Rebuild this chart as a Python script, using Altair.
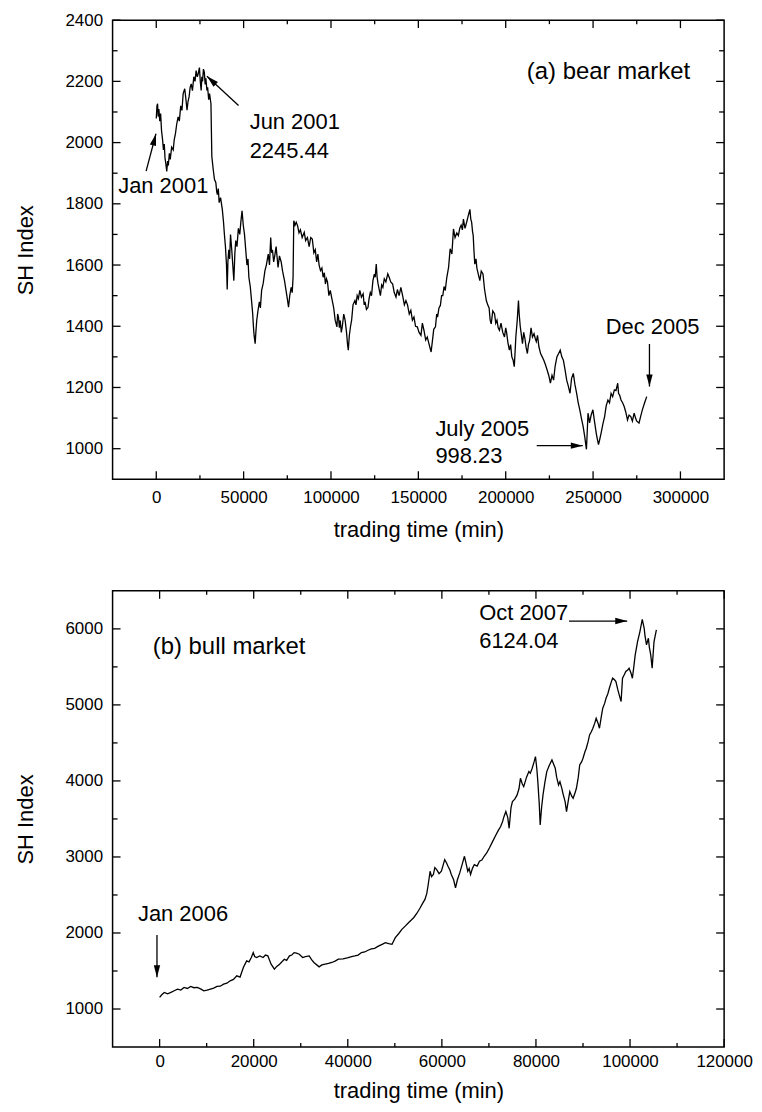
import math
import altair as alt
import pandas as pd

# ---------------- data: (a) bear market (SH index vs trading minutes) ----------------
bear_t = [0, 400, 750, 1100, 1500, 2000, 2500, 3000, 3600, 4100, 4600, 5000, 5500, 6000, 6500, 6900,
          7500, 8000, 8800, 9700, 10300, 11000, 11700, 12500, 13200, 14000, 14700, 15400, 16300, 17000,
          17600, 18200, 18800, 19400, 20000, 20700, 21500, 22200, 22800, 23500, 24000, 24700, 25200,
          25700, 26100, 26500, 27000, 27500, 28000, 28400, 29000, 29400, 30000, 30500, 31300, 31800,
          32600, 33300, 34100, 34600, 35000, 35500, 36000, 36800, 37800, 38500, 39000, 39600, 40200,
          40600, 41000, 41500, 42000, 42500, 43200, 43800, 44400, 45000, 45500, 46200, 47000, 47800,
          48400, 49100, 49800, 50500, 51200, 51900, 52500, 53000, 53800, 54700, 55200, 55600, 56000,
          56600, 57000, 57500, 58200, 59000, 59600, 60300, 61200, 62200, 63000, 64100, 64800, 65500,
          66000, 66500, 67200, 67800, 68600, 69700, 70500, 71500, 72300, 73400, 74200, 75000, 75700,
          76400, 77200, 77800, 78300, 78700, 79400, 80100, 80900, 81700, 82500, 83500, 84700, 85500,
          86500, 87500, 88400, 89300, 90200, 91000, 91800, 92500, 93200, 94000, 94800, 95500, 96200,
          96800, 97400, 98000, 98800, 99600, 100500, 101500, 102400, 103400, 103800, 104300, 104800,
          105300, 105900, 106500, 107300, 108100, 108900, 109400, 109900, 110500, 111200, 111800,
          112600, 113700, 114300, 115000, 115700, 116500, 117400, 118400, 119000, 119500, 120300,
          121200, 121800, 122500, 123200, 124000, 124800, 125300, 125900, 126400, 126900, 127600,
          128300, 129000, 129700, 130500, 131400, 132500, 133300, 134200, 135300, 136200, 137200,
          138000, 139000, 140000, 141000, 142000, 142900, 143800, 144800, 145700, 146600, 147500,
          148400, 149400, 150400, 151500, 152300, 153200, 154200, 155100, 156200, 157300, 158000,
          158800, 159800, 160500, 161000, 161800, 162600, 163300, 164000, 164700, 165400, 166300,
          167300, 168200, 169200, 170100, 171000, 172000, 172900, 173700, 174500, 175200, 175800,
          176700, 177600, 178500, 179500, 180000, 180500, 181000, 181400, 181800, 182300, 183000,
          183500, 184300, 185200, 186000, 187000, 187900, 188900, 189700, 190500, 191100, 191700,
          192600, 193600, 194300, 195000, 195700, 196400, 197300, 198300, 199300, 200000, 200500,
          201300, 202100, 202800, 203500, 204200, 204900, 205400, 205800, 206600, 207300, 207700,
          208300, 209000, 209600, 210300, 211000, 211700, 212400, 213000, 213700, 214500, 215300,
          216200, 216900, 217500, 218200, 219000, 220000, 220900, 221800, 222700, 223700, 224600,
          225600, 226500, 227400, 228300, 229300, 230200, 231200, 232100, 233000, 233900, 234900,
          235800, 236800, 237700, 238700, 239600, 240600, 241500, 242400, 243300, 244300, 245200,
          246200, 246700, 247100, 247600, 248000, 248900, 249900, 250800, 251800, 252500, 253100,
          253800, 254600, 255600, 256600, 257500, 258500, 259400, 260300, 261200, 262200, 263100,
          264100, 264600, 265200, 266000, 266900, 267800, 268700, 269700, 270600, 271600, 272500,
          273500, 274300, 275000, 276300, 277200, 278200, 279500, 280700]
bear_v = [2079, 2120, 2127, 2085, 2110, 2070, 2095, 2040, 2010, 1976, 1995, 1950, 1930, 1906, 1940, 1925,
          1965, 1945, 1985, 1976, 2010, 2030, 2060, 2084, 2070, 2120, 2105, 2160, 2176, 2140,
          2106, 2135, 2150, 2180, 2192, 2170, 2215, 2200, 2235, 2215, 2225, 2245, 2200,
          2170, 2215, 2200, 2240, 2230, 2190, 2210, 2170, 2181, 2140, 2160, 2127, 1955,
          1912, 1880, 1869, 1840, 1830, 1850, 1804, 1820, 1782, 1740, 1700, 1660, 1600,
          1520, 1610, 1650, 1620, 1700, 1650, 1600, 1549, 1640, 1680, 1660, 1720, 1700,
          1740, 1777, 1730, 1700, 1650, 1600, 1620, 1560, 1530, 1473, 1440, 1400, 1370,
          1343, 1380, 1419, 1450, 1480, 1460, 1517, 1540, 1582, 1600, 1636, 1600, 1690,
          1640, 1650, 1610, 1630, 1660, 1592, 1630, 1610, 1580, 1549, 1520, 1490, 1462,
          1500, 1527, 1510, 1560, 1745, 1730, 1740, 1728, 1705, 1715, 1690, 1707, 1680,
          1690, 1660, 1690, 1685, 1640, 1650, 1610, 1636, 1600, 1582, 1590, 1560, 1575,
          1538, 1555, 1545, 1500, 1517, 1490, 1462, 1420, 1398, 1440, 1430, 1395,
          1419, 1380, 1400, 1440, 1419, 1380, 1345, 1322, 1370, 1400, 1419,
          1470, 1484, 1470, 1500, 1490, 1517, 1495, 1506, 1470, 1480, 1455,
          1462, 1490, 1510, 1500, 1549, 1570, 1560, 1603, 1560, 1540, 1520,
          1500, 1535, 1527, 1555, 1545, 1571, 1560, 1545, 1538, 1510, 1495,
          1520, 1500, 1527, 1500, 1470, 1484, 1470, 1440, 1452, 1420, 1430,
          1400, 1398, 1380, 1370, 1410, 1387, 1355, 1365, 1340, 1316, 1350,
          1390, 1398, 1440, 1430, 1460, 1468, 1500, 1500, 1530, 1517, 1560,
          1592, 1653, 1636, 1718, 1690, 1705, 1696, 1720, 1730, 1715, 1750,
          1720, 1739, 1760, 1782, 1750, 1740, 1710, 1696, 1650, 1603, 1620,
          1590, 1570, 1549, 1580, 1571, 1520, 1484, 1470, 1460, 1420, 1408,
          1450, 1441, 1410, 1420, 1395, 1387, 1410, 1380, 1365, 1395, 1380,
          1345, 1322, 1340, 1300, 1290, 1268, 1320, 1365, 1420, 1484, 1441,
          1400, 1370, 1343, 1380, 1360, 1330, 1311, 1340, 1354, 1395, 1365,
          1376, 1360, 1350, 1370, 1333, 1310, 1300, 1289, 1275, 1257, 1240,
          1214, 1240, 1224, 1270, 1300, 1310, 1322, 1300, 1289, 1260, 1224,
          1205, 1181, 1230, 1246, 1210, 1181, 1150, 1127, 1100, 1073, 1040,
          998, 1060, 1116, 1100, 1084, 1110, 1127, 1090, 1051, 1030, 1013,
          1030, 1051, 1080, 1105, 1140, 1159, 1150, 1181, 1170, 1192, 1190,
          1214, 1180, 1175, 1159, 1150, 1138, 1120, 1094, 1110, 1105, 1090,
          1116, 1100, 1090, 1084, 1105, 1127, 1150, 1170]

# ---------------- data: (b) bull market ----------------
bull_t = [0, 500, 1000, 1700, 2400, 3100, 3800, 4500, 5200, 5900, 6600, 7300, 8000, 8700, 9400, 10100,
          10800, 11500, 12200, 12900, 13600, 14300, 15000, 15700, 16400, 17100, 17800, 18500, 19000,
          19500, 19900, 20200, 20600, 21300, 22000, 22500, 23000, 23700, 24400, 24900, 25500, 26500,
          27000, 27600, 28100, 28600, 29100, 29700, 30400, 31000, 31800, 32300, 32800, 33900, 34500,
          35200, 35900, 36600, 37300, 38000, 39000, 40100, 40800, 41500, 42200, 42900, 43600, 44300,
          45000, 45700, 46600, 47300, 48000, 48700, 49400, 50100, 50800, 51500, 52200, 52900, 53500,
          54000, 54700, 55400, 55900, 56400, 56800, 57100, 57500, 57800, 58200, 58500, 58900, 59400,
          59900, 60300, 60600, 61000, 61300, 61700, 62000, 62500, 62900, 63300, 63800, 64300, 64800,
          65200, 65500, 65800, 66100, 66500, 66900, 67500, 68000, 68500, 69000, 69600, 70100, 70800,
          71400, 72000, 72500, 72900, 73200, 73600, 74000, 74300, 74700, 75000, 75500, 76000, 76400,
          76700, 77100, 77400, 78000, 78500, 78800, 79200, 79600, 79900, 80200, 80400, 80700, 80900,
          81200, 81500, 81900, 82300, 82800, 83400, 83700, 84100, 84400, 84800, 85100, 85500, 85800,
          86200, 86500, 86900, 87200, 87600, 87900, 88300, 88600, 89000, 89300, 89700, 90000, 90400,
          90700, 91100, 91400, 91800, 92100, 92500, 92800, 93200, 93500, 93900, 94200, 94600, 94900,
          95300, 95600, 96000, 96300, 96700, 97000, 97400, 97700, 98100, 98400, 98800, 99100, 99500,
          99800, 100200, 100500, 100800, 101100, 101600, 102100, 102600, 103000, 103200, 103500,
          103900, 104100, 104400, 104700, 105100, 105600]
bull_v = [1153, 1190, 1218, 1200, 1218, 1240, 1262, 1250, 1284, 1270, 1297, 1280, 1284, 1265, 1240, 1250,
          1262, 1275, 1297, 1300, 1327, 1340, 1371, 1390, 1437, 1420, 1546, 1633, 1620,
          1677, 1742, 1690, 1677, 1699, 1677, 1710, 1699, 1590, 1524, 1560, 1590, 1655,
          1640, 1699, 1710, 1742, 1735, 1720, 1677, 1690, 1699, 1650, 1612, 1555, 1580,
          1590, 1600, 1612, 1630, 1655, 1660, 1677, 1690, 1699, 1710, 1742, 1750, 1773,
          1790, 1799, 1830, 1850, 1873, 1860, 1851, 1939, 1990, 2048, 2090, 2135, 2170,
          2201, 2260, 2332, 2390, 2441, 2520, 2638, 2812, 2740, 2769, 2860, 2834, 2780,
          2812, 2900, 2965, 2920, 2878, 2830, 2769, 2700, 2594, 2700, 2790, 2900, 3009,
          2900, 2812, 2850, 2769, 2850, 2900, 2880, 2943, 2960, 3009, 3060, 3118, 3205,
          3280, 3350, 3400, 3465, 3530, 3597, 3520, 3377, 3650, 3728, 3760, 3816, 3900,
          4035, 3960, 3925, 4050, 4123, 4100, 4167, 4250, 4320, 4150, 3991, 3700, 3421,
          3650, 3816, 3980, 4123, 4200, 4276, 4230, 4167, 4050, 3947, 3990, 3903, 3820,
          3728, 3597, 3750, 3860, 3800, 3772, 3840, 3903, 4050, 4211, 4250, 4298, 4380,
          4430, 4520, 4605, 4650, 4693, 4760, 4825, 4760, 4693, 4850, 4956, 5020, 5088,
          5150, 5219, 5300, 5351, 5330, 5307, 5200, 5132, 5044, 5351, 5400, 5439, 5460,
          5482, 5420, 5351, 5500, 5658, 5833, 5965, 6124, 6009, 5900, 5789,
          5877, 5760, 5658, 5482, 5833, 5987]

# ---------------- annotations ----------------
a_label = ["(a) bear market"]
a_label_x = [212100]
a_label_y = [2232]
a_txt = ["Jun 2001", "2245.44", "Jan 2001", "Dec 2005", "July 2005", "998.23"]
a_txt_x = [53468, 53468, -21782, 257258, 159766, 159766]
a_txt_y = [2066, 1973, 1857, 1397, 1065, 975]
a_arr_x1 = [47088, -5806, 282267, 217742]
a_arr_y1 = [2121, 1907, 1342, 1010]
a_arr_x2 = [29024, -161, 282267, 244097]
a_arr_y2 = [2217, 2029, 1203, 1010]

b_label = ["(b) bull market"]
b_label_x = [-1465]
b_label_y = [5766]
b_txt = ["Oct 2007", "6124.04", "Jan 2006"]
b_txt_x = [67945, 67945, -4611]
b_txt_y = [6205, 5845, 2252]
b_arr_x1 = [87029, -563]
b_arr_y1 = [6103, 1973]
b_arr_x2 = [99400, -563]
b_arr_y2 = [6103, 1417]

# ---------------- axes ----------------
a_xdom, a_ydom = [-25000, 325000], [900, 2400]
a_xmajor = [0, 50000, 100000, 150000, 200000, 250000, 300000]
a_xminor = [25000, 75000, 125000, 175000, 225000, 275000]
a_ymajor = [1000, 1200, 1400, 1600, 1800, 2000, 2200, 2400]
a_yminor = [1100, 1300, 1500, 1700, 1900, 2100, 2300]

b_xdom, b_ydom = [-10000, 120000], [500, 6500]
b_xmajor = [0, 20000, 40000, 60000, 80000, 100000, 120000]
b_xminor = [10000, 30000, 50000, 70000, 90000, 110000]
b_ymajor = [1000, 2000, 3000, 4000, 5000, 6000]
b_yminor = [1500, 2500, 3500, 4500, 5500]

FONT = "Liberation Sans"
W = 614
ARROW = "M0,0L-0.4,1.5L0.4,1.5Z"


def lab_axis(values, title, orient, lpad, tpad):
    return alt.Axis(
        orient=orient, values=values, format="d", ticks=False, domain=False, grid=False,
        labelFont=FONT, labelFontSize=17, labelColor="black", labelPadding=lpad,
        labelFlush=False, labelOverlap=False,
        title=title, titleFont=FONT, titleFontSize=22, titleFontWeight="normal",
        titleColor="black", titlePadding=tpad,
    )


def panel(t, v, xdom, ydom, xmaj, xmin, ymaj, ymin, h, xlpad, xtpad,
          lab, lab_x, lab_y, txt, txt_x, txt_y, ax1, ay1, ax2, ay2):
    xs = alt.Scale(domain=xdom, nice=False, zero=False)
    ys = alt.Scale(domain=ydom, nice=False, zero=False)
    series = pd.DataFrame({"t": t, "v": v})
    line = alt.Chart(series).mark_line(color="black", strokeWidth=1.3).encode(
        x=alt.X("t:Q", scale=xs, axis=lab_axis(xmaj, "trading time (min)", "bottom", xlpad, xtpad)),
        y=alt.Y("v:Q", scale=ys, axis=lab_axis(ymaj, "SH Index", "left", 10, 28)),
    )
    layers = [line]
    # inward tick marks on all four sides
    for vals, ln in ((xmaj, 8), (xmin, 4)):
        d = pd.DataFrame({"v": vals})
        for y0, y1 in ((h, h - ln), (0, ln)):
            layers.append(alt.Chart(d).mark_rule(color="black", strokeWidth=1.3).encode(
                x=alt.X("v:Q", scale=xs, axis=None), y=alt.value(y0), y2=alt.value(y1)))
    for vals, ln in ((ymaj, 8), (ymin, 5)):
        d = pd.DataFrame({"v": vals})
        for x0, x1 in ((0, ln), (W, W - ln)):
            layers.append(alt.Chart(d).mark_rule(color="black", strokeWidth=1.3).encode(
                y=alt.Y("v:Q", scale=ys, axis=None), x=alt.value(x0), x2=alt.value(x1)))

    tdf = pd.DataFrame({"x": txt_x, "y": txt_y, "label": txt})
    layers.append(alt.Chart(tdf).mark_text(align="left", baseline="middle", font=FONT,
                                           fontSize=22, color="black").encode(
        x=alt.X("x:Q", scale=xs, axis=None), y=alt.Y("y:Q", scale=ys, axis=None), text="label:N"))
    ldf = pd.DataFrame({"x": lab_x, "y": lab_y, "label": lab})
    layers.append(alt.Chart(ldf).mark_text(align="left", baseline="middle", font=FONT,
                                           fontSize=24, color="black").encode(
        x=alt.X("x:Q", scale=xs, axis=None), y=alt.Y("y:Q", scale=ys, axis=None), text="label:N"))

    kx = W / (xdom[1] - xdom[0])
    ky = h / (ydom[1] - ydom[0])
    ang = []
    for x1, y1, x2, y2 in zip(ax1, ay1, ax2, ay2):
        dx = (x2 - x1) * kx
        dy = -(y2 - y1) * ky
        ang.append(math.degrees(math.atan2(dx, -dy)) % 360)
    adf = pd.DataFrame({"x1": ax1, "y1": ay1, "x2": ax2, "y2": ay2, "ang": ang})
    layers.append(alt.Chart(adf).mark_rule(color="black", strokeWidth=1.3).encode(
        x=alt.X("x1:Q", scale=xs, axis=None), y=alt.Y("y1:Q", scale=ys, axis=None),
        x2="x2:Q", y2="y2:Q"))
    layers.append(alt.Chart(adf).mark_point(shape=ARROW, filled=True, size=256, color="black",
                                            opacity=1, strokeWidth=0).encode(
        x=alt.X("x2:Q", scale=xs, axis=None), y=alt.Y("y2:Q", scale=ys, axis=None),
        angle=alt.Angle("ang:Q", scale=None)))
    return alt.layer(*layers).resolve_axis(x="independent", y="independent").properties(
        width=W, height=h)


top = panel(bear_t, bear_v, a_xdom, a_ydom, a_xmajor, a_xminor, a_ymajor, a_yminor, 461, 10, 14,
            a_label, a_label_x, a_label_y, a_txt, a_txt_x, a_txt_y,
            a_arr_x1, a_arr_y1, a_arr_x2, a_arr_y2)
bottom = panel(bull_t, bull_v, b_xdom, b_ydom, b_xmajor, b_xminor, b_ymajor, b_yminor, 458, 7, 11,
               b_label, b_label_x, b_label_y, b_txt, b_txt_x, b_txt_y,
               b_arr_x1, b_arr_y1, b_arr_x2, b_arr_y2)

chart = alt.vconcat(top, bottom, spacing=48).properties(
    padding={"left": 5, "top": 0, "right": 0, "bottom": 0}
).configure(font=FONT, background="white").configure_view(stroke="black", strokeWidth=1.5)

chart.save("out.html", embed_options={"renderer": "svg", "actions": False})
